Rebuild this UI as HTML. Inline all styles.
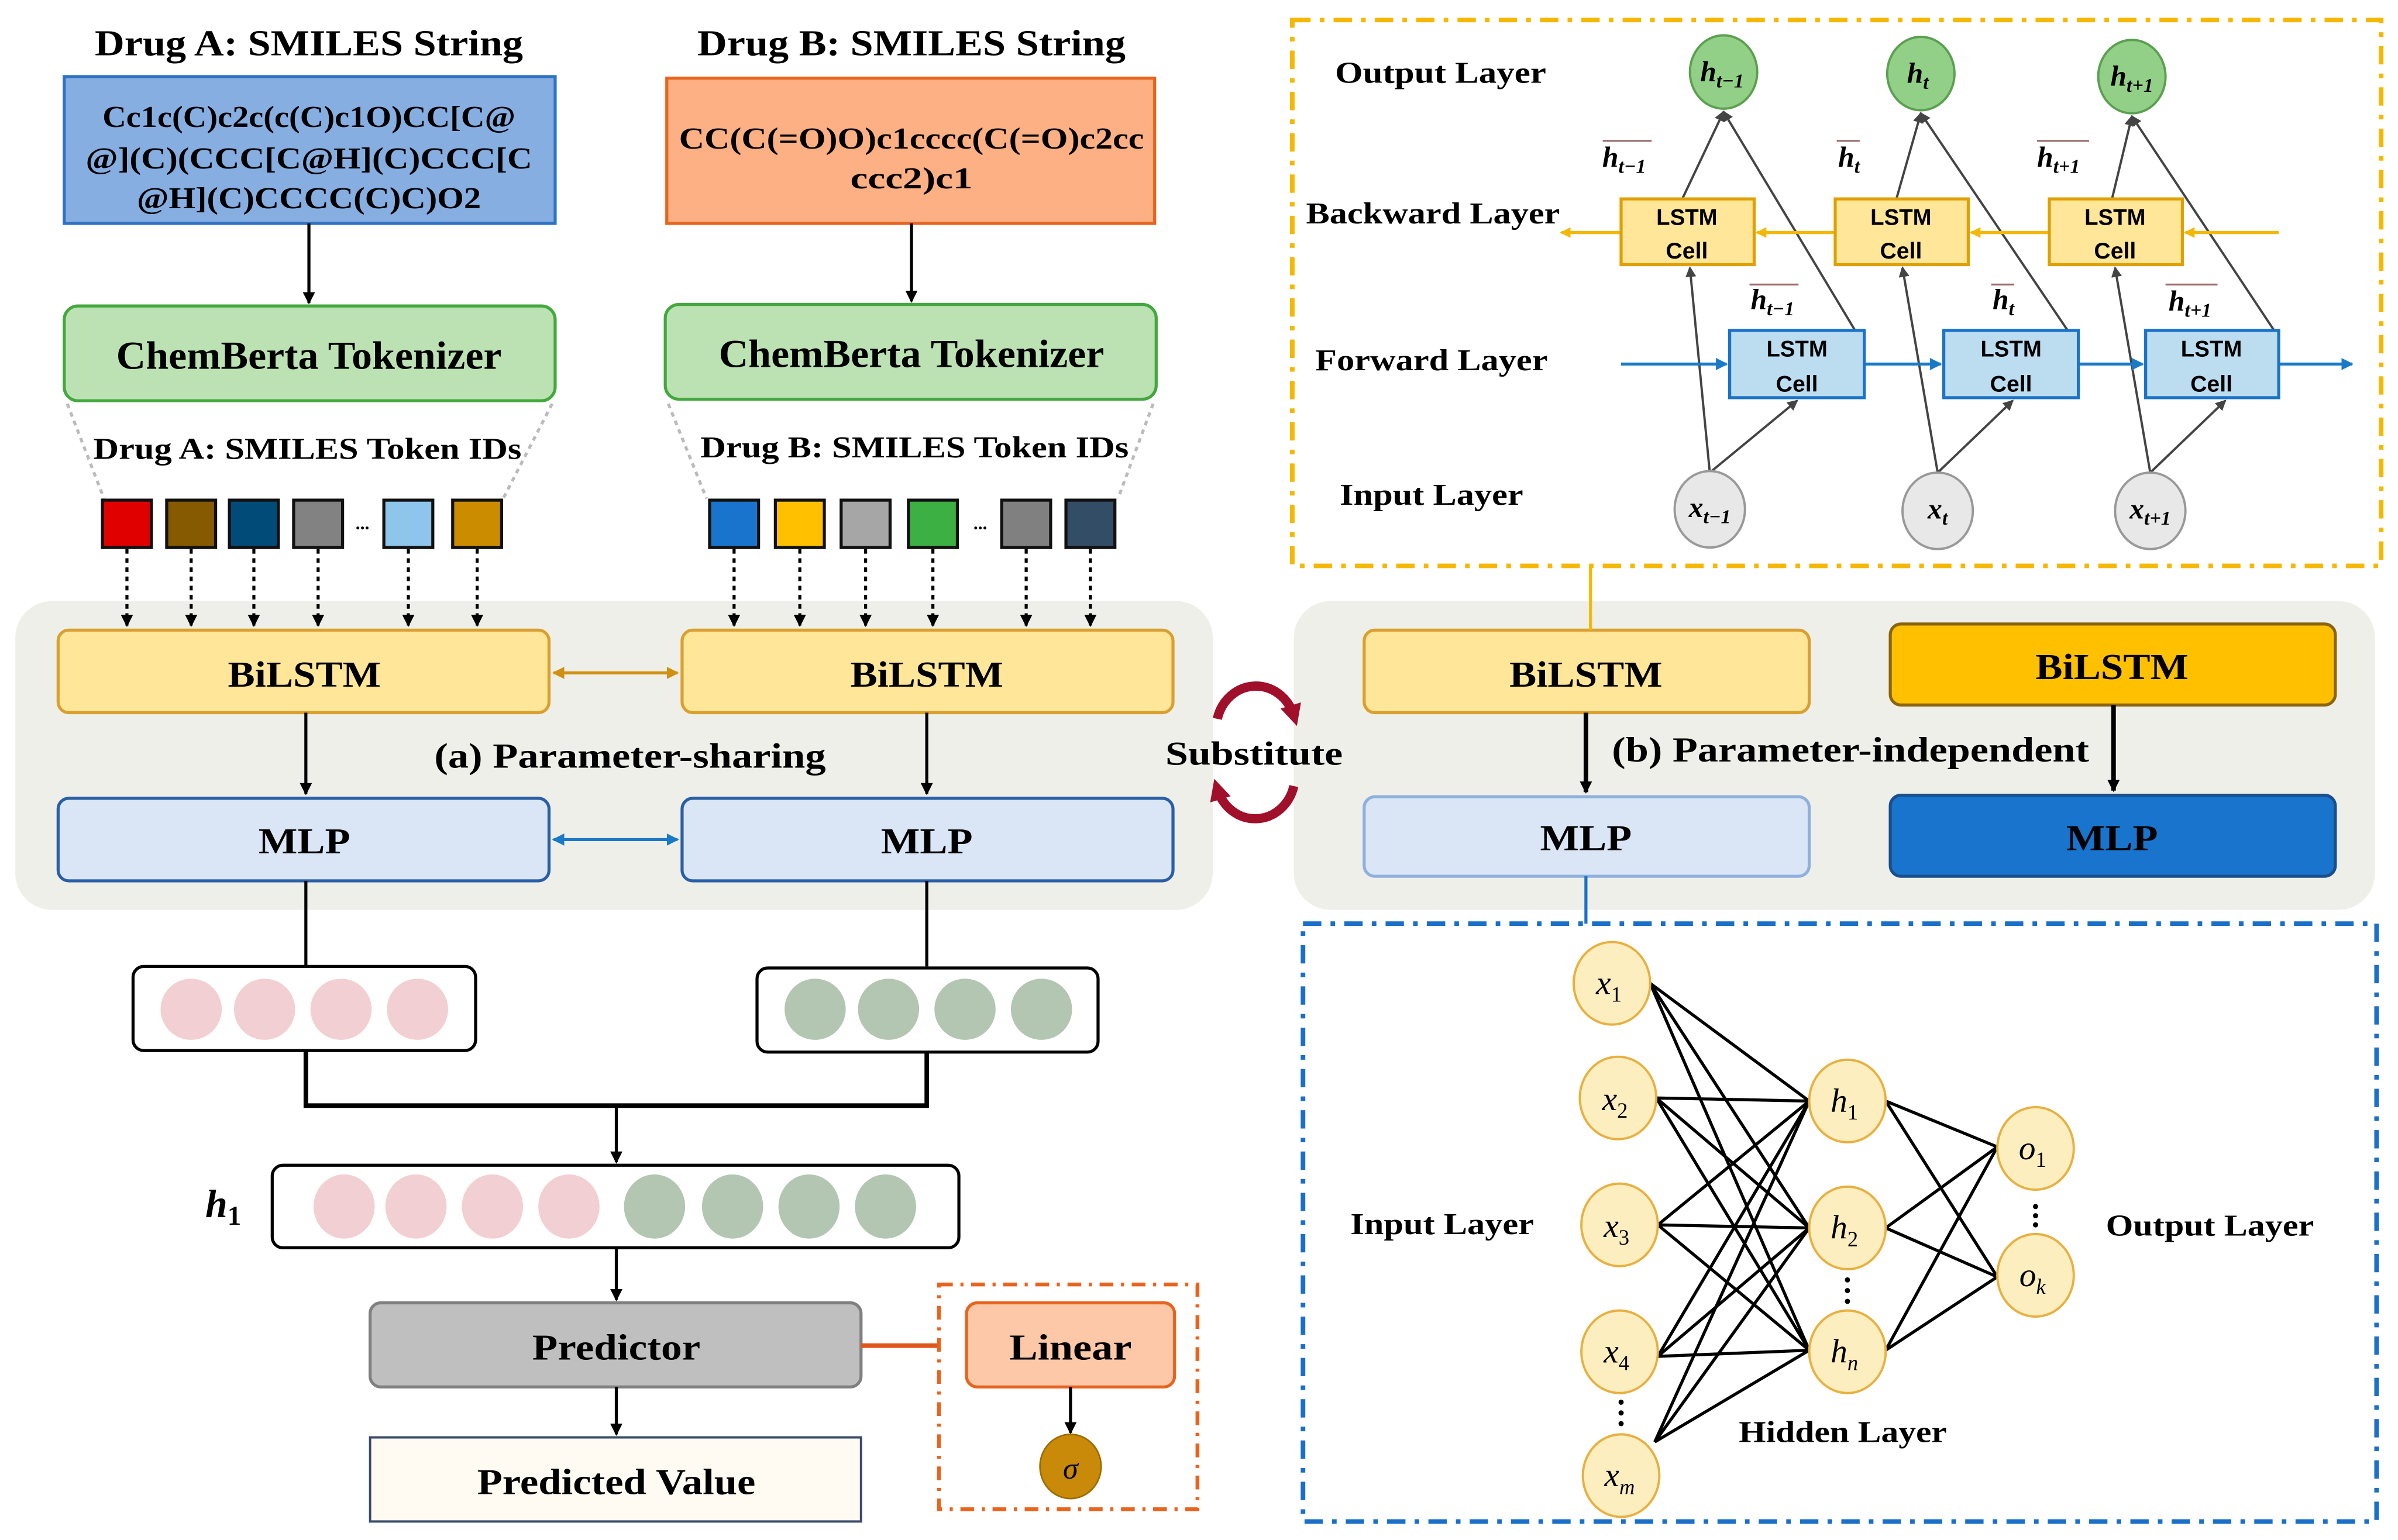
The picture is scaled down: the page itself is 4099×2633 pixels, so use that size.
<!DOCTYPE html>
<html><head><meta charset="utf-8"><style>html,body{margin:0;padding:0;background:#fff}svg{display:block}</style></head><body>
<svg width="4099" height="2633" viewBox="0 0 1568 1007" xmlns="http://www.w3.org/2000/svg" font-family="'Liberation Serif',serif" font-weight="bold">
<defs>
<marker id="ak" markerWidth="8" markerHeight="8" refX="7" refY="4" orient="auto" markerUnits="userSpaceOnUse"><path d="M0,0 L8,4 L0,8 z" fill="#000"/></marker>
<marker id="ag" markerWidth="7" markerHeight="7" refX="6" refY="3.5" orient="auto" markerUnits="userSpaceOnUse"><path d="M0,0 L7,3.5 L0,7 z" fill="#444"/></marker>
<marker id="ao" markerWidth="8" markerHeight="8" refX="7" refY="4" orient="auto-start-reverse" markerUnits="userSpaceOnUse"><path d="M0,0 L8,4 L0,8 z" fill="#d09010"/></marker>
<marker id="ab" markerWidth="8" markerHeight="8" refX="7" refY="4" orient="auto-start-reverse" markerUnits="userSpaceOnUse"><path d="M0,0 L8,4 L0,8 z" fill="#1a7ac8"/></marker>
<marker id="ay" markerWidth="7" markerHeight="7" refX="6" refY="3.5" orient="auto" markerUnits="userSpaceOnUse"><path d="M0,0 L7,3.5 L0,7 z" fill="#f5b800"/></marker>
<marker id="ar" markerWidth="14" markerHeight="14" refX="7" refY="7" orient="auto" markerUnits="userSpaceOnUse"><path d="M0,0 L14,7 L0,14 z" fill="#a0102a"/></marker>
</defs>

<!-- Left top -->
<text x="202" y="36" font-size="24" text-anchor="middle" textLength="280" lengthAdjust="spacingAndGlyphs">Drug A: SMILES String</text>
<text x="596" y="36" font-size="24" text-anchor="middle" textLength="280" lengthAdjust="spacingAndGlyphs">Drug B: SMILES String</text>
<rect x="42" y="50" width="321" height="96" fill="#86aee1" stroke="#2f72c4" stroke-width="2"/>
<g font-size="20" text-anchor="middle">
<text x="202" y="83" textLength="270" lengthAdjust="spacingAndGlyphs">Cc1c(C)c2c(c(C)c1O)CC[C@</text>
<text x="202" y="110" textLength="292" lengthAdjust="spacingAndGlyphs">@](C)(CCC[C@H](C)CCC[C</text>
<text x="202" y="136" textLength="225" lengthAdjust="spacingAndGlyphs">@H](C)CCCC(C)C)O2</text>
</g>
<rect x="436" y="51" width="319" height="95" fill="#fdb083" stroke="#e8641e" stroke-width="2"/>
<g font-size="20" text-anchor="middle">
<text x="596" y="97" textLength="304" lengthAdjust="spacingAndGlyphs">CC(C(=O)O)c1cccc(C(=O)c2cc</text>
<text x="596" y="123" textLength="80" lengthAdjust="spacingAndGlyphs">ccc2)c1</text>
</g>
<line x1="202" y1="146" x2="202" y2="198" stroke="#000" stroke-width="2" marker-end="url(#ak)"/>
<line x1="596" y1="146" x2="596" y2="197" stroke="#000" stroke-width="2" marker-end="url(#ak)"/>
<rect x="42" y="200" width="321" height="62" rx="9" fill="#bce2b4" stroke="#43a83e" stroke-width="2"/>
<rect x="435" y="199" width="321" height="62" rx="9" fill="#bce2b4" stroke="#43a83e" stroke-width="2"/>
<text x="202" y="241" font-size="26" text-anchor="middle" textLength="252" lengthAdjust="spacingAndGlyphs">ChemBerta Tokenizer</text>
<text x="596" y="240" font-size="26" text-anchor="middle" textLength="252" lengthAdjust="spacingAndGlyphs">ChemBerta Tokenizer</text>
<g stroke="#bbb" stroke-width="2" stroke-dasharray="3,3">
<line x1="44" y1="264" x2="68" y2="326"/><line x1="361" y1="264" x2="329" y2="326"/>
<line x1="437" y1="264" x2="462" y2="326"/><line x1="754" y1="264" x2="731" y2="326"/>
</g>
<text x="201" y="300" font-size="20" text-anchor="middle" textLength="280" lengthAdjust="spacingAndGlyphs">Drug A: SMILES Token IDs</text>
<text x="598" y="299" font-size="20" text-anchor="middle" textLength="280" lengthAdjust="spacingAndGlyphs">Drug B: SMILES Token IDs</text>
<g stroke="#111" stroke-width="2">
<rect x="67" y="327" width="32" height="31" fill="#e00000"/>
<rect x="109" y="327" width="32" height="31" fill="#865a00"/>
<rect x="150" y="327" width="32" height="31" fill="#004b78"/>
<rect x="192" y="327" width="32" height="31" fill="#828282"/>
<rect x="251" y="327" width="32" height="31" fill="#8ec5ea"/>
<rect x="296" y="327" width="32" height="31" fill="#cc8c00"/>
<rect x="464" y="327" width="32" height="31" fill="#1874cd"/>
<rect x="507" y="327" width="32" height="31" fill="#ffc000"/>
<rect x="550" y="327" width="32" height="31" fill="#a6a6a6"/>
<rect x="594" y="327" width="32" height="31" fill="#3cb043"/>
<rect x="655" y="327" width="32" height="31" fill="#808080"/>
<rect x="697" y="327" width="32" height="31" fill="#344d66"/>
</g>
<text x="237" y="346" font-size="12" text-anchor="middle">...</text>
<text x="641" y="346" font-size="12" text-anchor="middle">...</text>

<!-- gray panels -->
<rect x="10" y="393" width="783" height="202" rx="24" fill="#efefea"/>
<rect x="846" y="393" width="707" height="202" rx="24" fill="#efefea"/>
<g stroke="#000" stroke-width="2" stroke-dasharray="3,3">
<line x1="83" y1="359" x2="83" y2="409" marker-end="url(#ak)"/>
<line x1="125" y1="359" x2="125" y2="409" marker-end="url(#ak)"/>
<line x1="166" y1="359" x2="166" y2="409" marker-end="url(#ak)"/>
<line x1="208" y1="359" x2="208" y2="409" marker-end="url(#ak)"/>
<line x1="267" y1="359" x2="267" y2="409" marker-end="url(#ak)"/>
<line x1="312" y1="359" x2="312" y2="409" marker-end="url(#ak)"/>
<line x1="480" y1="359" x2="480" y2="409" marker-end="url(#ak)"/>
<line x1="523" y1="359" x2="523" y2="409" marker-end="url(#ak)"/>
<line x1="566" y1="359" x2="566" y2="409" marker-end="url(#ak)"/>
<line x1="610" y1="359" x2="610" y2="409" marker-end="url(#ak)"/>
<line x1="671" y1="359" x2="671" y2="409" marker-end="url(#ak)"/>
<line x1="713" y1="359" x2="713" y2="409" marker-end="url(#ak)"/>
</g>
<rect x="38" y="412" width="321" height="54" rx="7" fill="#ffe699" stroke="#d9a030" stroke-width="2"/>
<rect x="446" y="412" width="321" height="54" rx="7" fill="#ffe699" stroke="#d9a030" stroke-width="2"/>
<text x="199" y="449" font-size="24" text-anchor="middle" textLength="100" lengthAdjust="spacingAndGlyphs">BiLSTM</text>
<text x="606" y="449" font-size="24" text-anchor="middle" textLength="100" lengthAdjust="spacingAndGlyphs">BiLSTM</text>
<line x1="362" y1="440" x2="443" y2="440" stroke="#d09010" stroke-width="2" marker-start="url(#ao)" marker-end="url(#ao)"/>
<text x="412" y="502" font-size="23" text-anchor="middle" textLength="256" lengthAdjust="spacingAndGlyphs">(a) Parameter-sharing</text>
<line x1="200" y1="466" x2="200" y2="519" stroke="#000" stroke-width="2" marker-end="url(#ak)"/>
<line x1="606" y1="466" x2="606" y2="519" stroke="#000" stroke-width="2" marker-end="url(#ak)"/>
<rect x="38" y="522" width="321" height="54" rx="7" fill="#dae6f5" stroke="#2a5fa6" stroke-width="2"/>
<rect x="446" y="522" width="321" height="54" rx="7" fill="#dae6f5" stroke="#2a5fa6" stroke-width="2"/>
<text x="199" y="558" font-size="24" text-anchor="middle" textLength="60" lengthAdjust="spacingAndGlyphs">MLP</text>
<text x="606" y="558" font-size="24" text-anchor="middle" textLength="60" lengthAdjust="spacingAndGlyphs">MLP</text>
<line x1="362" y1="549" x2="443" y2="549" stroke="#1a7ac8" stroke-width="2" marker-start="url(#ab)" marker-end="url(#ab)"/>

<line x1="200" y1="576" x2="200" y2="632" stroke="#000" stroke-width="2"/>
<line x1="606" y1="576" x2="606" y2="632" stroke="#000" stroke-width="2"/>
<rect x="87" y="632" width="224" height="55" rx="7" fill="#fff" stroke="#000" stroke-width="2"/>
<rect x="495" y="633" width="223" height="55" rx="7" fill="#fff" stroke="#000" stroke-width="2"/>
<g fill="#f2cfd2"><ellipse cx="125" cy="660" rx="20" ry="20"/><ellipse cx="173" cy="660" rx="20" ry="20"/><ellipse cx="223" cy="660" rx="20" ry="20"/><ellipse cx="273" cy="660" rx="20" ry="20"/>
<ellipse cx="225" cy="789" rx="20" ry="21"/><ellipse cx="272" cy="789" rx="20" ry="21"/><ellipse cx="322" cy="789" rx="20" ry="21"/><ellipse cx="372" cy="789" rx="20" ry="21"/></g>
<g fill="#b2c6b2"><ellipse cx="533" cy="660" rx="20" ry="20"/><ellipse cx="581" cy="660" rx="20" ry="20"/><ellipse cx="631" cy="660" rx="20" ry="20"/><ellipse cx="681" cy="660" rx="20" ry="20"/></g>
<polyline points="200,687 200,723 606,723 606,688" fill="none" stroke="#000" stroke-width="3"/>
<line x1="403" y1="723" x2="403" y2="760" stroke="#000" stroke-width="2" marker-end="url(#ak)"/>
<text x="146" y="796" font-size="26" font-style="italic" text-anchor="middle">h<tspan font-size="18" dy="5" font-style="normal">1</tspan></text>
<rect x="178" y="762" width="449" height="54" rx="7" fill="#fff" stroke="#000" stroke-width="2"/>
<g fill="#f2cfd2"><ellipse cx="225" cy="789" rx="20" ry="21"/><ellipse cx="272" cy="789" rx="20" ry="21"/><ellipse cx="322" cy="789" rx="20" ry="21"/><ellipse cx="372" cy="789" rx="20" ry="21"/></g>
<g fill="#b2c6b2"><ellipse cx="428" cy="789" rx="20" ry="21"/><ellipse cx="479" cy="789" rx="20" ry="21"/><ellipse cx="529" cy="789" rx="20" ry="21"/><ellipse cx="579" cy="789" rx="20" ry="21"/></g>
<line x1="403" y1="816" x2="403" y2="850" stroke="#000" stroke-width="2" marker-end="url(#ak)"/>
<rect x="242" y="852" width="321" height="55" rx="7" fill="#bfbfbf" stroke="#808080" stroke-width="2"/>
<text x="403" y="889" font-size="24" text-anchor="middle" textLength="110" lengthAdjust="spacingAndGlyphs">Predictor</text>
<line x1="403" y1="907" x2="403" y2="938" stroke="#000" stroke-width="2" marker-end="url(#ak)"/>
<rect x="242" y="940" width="321" height="55" fill="#fffbf3" stroke="#3a4a6a" stroke-width="1.5"/>
<text x="403" y="977" font-size="24" text-anchor="middle" textLength="182" lengthAdjust="spacingAndGlyphs">Predicted Value</text>
<line x1="563" y1="880" x2="614" y2="880" stroke="#e0561a" stroke-width="3"/>
<rect x="614" y="840" width="169" height="147" fill="none" stroke="#e8641e" stroke-width="2.5" stroke-dasharray="9,5,2,5"/>
<rect x="632" y="852" width="136" height="55" rx="7" fill="#fdc8a8" stroke="#e8641e" stroke-width="2"/>
<text x="700" y="889" font-size="24" text-anchor="middle" textLength="80" lengthAdjust="spacingAndGlyphs">Linear</text>
<line x1="700" y1="907" x2="700" y2="937" stroke="#000" stroke-width="2" marker-end="url(#ak)"/>
<ellipse cx="700" cy="959" rx="20" ry="21" fill="#c88a08" stroke="#9a6a00" stroke-width="1"/>
<text x="700" y="967" font-size="20" font-style="italic" font-weight="normal" text-anchor="middle">σ</text>

<!-- Substitute -->
<path d="M796,470 A26,28 0 0 1 846,468" fill="none" stroke="#a0102a" stroke-width="6" marker-end="url(#ar)"/>
<path d="M846,514 A26,28 0 0 1 796,516" fill="none" stroke="#a0102a" stroke-width="6" marker-end="url(#ar)"/>
<path d="M796,470 A26,28 0 0 1 846,468" fill="none" stroke="#a0102a" stroke-width="6"/>
<text x="820" y="500" font-size="22" text-anchor="middle" textLength="116" lengthAdjust="spacingAndGlyphs">Substitute</text>

<!-- right panel -->
<rect x="892" y="412" width="291" height="54" rx="7" fill="#ffe699" stroke="#d9a030" stroke-width="2"/>
<rect x="1236" y="408" width="291" height="53" rx="7" fill="#ffc000" stroke="#8a6410" stroke-width="2"/>
<text x="1037" y="449" font-size="24" text-anchor="middle" textLength="100" lengthAdjust="spacingAndGlyphs">BiLSTM</text>
<text x="1381" y="444" font-size="24" text-anchor="middle" textLength="100" lengthAdjust="spacingAndGlyphs">BiLSTM</text>
<text x="1210" y="498" font-size="23" text-anchor="middle" textLength="312" lengthAdjust="spacingAndGlyphs">(b) Parameter-independent</text>
<line x1="1037" y1="466" x2="1037" y2="518" stroke="#000" stroke-width="3" marker-end="url(#ak)"/>
<line x1="1382" y1="461" x2="1382" y2="517" stroke="#000" stroke-width="3" marker-end="url(#ak)"/>
<rect x="892" y="521" width="291" height="52" rx="7" fill="#dae6f5" stroke="#8fb0dc" stroke-width="2"/>
<rect x="1236" y="520" width="291" height="53" rx="7" fill="#1874cd" stroke="#1a4f8a" stroke-width="2"/>
<text x="1037" y="556" font-size="24" text-anchor="middle" textLength="60" lengthAdjust="spacingAndGlyphs">MLP</text>
<text x="1381" y="556" font-size="24" text-anchor="middle" textLength="60" lengthAdjust="spacingAndGlyphs">MLP</text>

<!-- LSTM box -->
<rect x="845" y="13" width="712" height="357" fill="none" stroke="#f5b800" stroke-width="3" stroke-dasharray="12,6,3,6"/>
<line x1="1040" y1="370" x2="1040" y2="412" stroke="#f5b800" stroke-width="2"/>
<g font-size="20" text-anchor="middle">
<text x="942" y="54" textLength="138" lengthAdjust="spacingAndGlyphs">Output Layer</text>
<text x="937" y="146" textLength="166" lengthAdjust="spacingAndGlyphs">Backward Layer</text>
<text x="936" y="242" textLength="152" lengthAdjust="spacingAndGlyphs">Forward Layer</text>
<text x="936" y="330" textLength="120" lengthAdjust="spacingAndGlyphs">Input Layer</text>
</g>
<!-- arrows lines -->
<g stroke="#444" stroke-width="1.5" fill="none">
<line x1="1118" y1="309" x2="1105" y2="175" marker-end="url(#ag)"/>
<line x1="1118" y1="309" x2="1175" y2="262" marker-end="url(#ag)"/>
<line x1="1267" y1="309" x2="1244" y2="175" marker-end="url(#ag)"/>
<line x1="1267" y1="309" x2="1316" y2="262" marker-end="url(#ag)"/>
<line x1="1406" y1="309" x2="1383" y2="175" marker-end="url(#ag)"/>
<line x1="1406" y1="309" x2="1455" y2="262" marker-end="url(#ag)"/>
<line x1="1100" y1="130" x2="1127" y2="73" marker-end="url(#ag)"/>
<line x1="1213" y1="216" x2="1127" y2="73" marker-end="url(#ag)"/>
<line x1="1240" y1="130" x2="1256" y2="74" marker-end="url(#ag)"/>
<line x1="1352" y1="216" x2="1256" y2="74" marker-end="url(#ag)"/>
<line x1="1381" y1="130" x2="1394" y2="76" marker-end="url(#ag)"/>
<line x1="1487" y1="216" x2="1394" y2="76" marker-end="url(#ag)"/>
</g>
<g stroke="#f5b800" stroke-width="2">
<line x1="1490" y1="152" x2="1429" y2="152" marker-end="url(#ay)"/>
<line x1="1340" y1="152" x2="1289" y2="152" marker-end="url(#ay)"/>
<line x1="1200" y1="152" x2="1149" y2="152" marker-end="url(#ay)"/>
<line x1="1060" y1="152" x2="1021" y2="152" marker-end="url(#ay)"/>
</g>
<g stroke="#1a7ac8" stroke-width="2">
<line x1="1060" y1="238" x2="1129" y2="238" marker-end="url(#ab)"/>
<line x1="1219" y1="238" x2="1269" y2="238" marker-end="url(#ab)"/>
<line x1="1359" y1="238" x2="1401" y2="238" marker-end="url(#ab)"/>
<line x1="1490" y1="238" x2="1538" y2="238" marker-end="url(#ab)"/>
</g>
<g fill="#ffe699" stroke="#e0a000" stroke-width="2">
<rect x="1060" y="130" width="87" height="43"/><rect x="1200" y="130" width="87" height="43"/><rect x="1340" y="130" width="87" height="43"/>
</g>
<g fill="#bcdcf0" stroke="#1a73c8" stroke-width="2">
<rect x="1131" y="216" width="88" height="44"/><rect x="1271" y="216" width="88" height="44"/><rect x="1403" y="216" width="87" height="44"/>
</g>
<g font-family="'Liberation Sans',sans-serif" font-size="15" text-anchor="middle">
<text x="1103" y="147" textLength="40" lengthAdjust="spacingAndGlyphs">LSTM</text><text x="1103" y="169">Cell</text>
<text x="1243" y="147" textLength="40" lengthAdjust="spacingAndGlyphs">LSTM</text><text x="1243" y="169">Cell</text>
<text x="1383" y="147" textLength="40" lengthAdjust="spacingAndGlyphs">LSTM</text><text x="1383" y="169">Cell</text>
<text x="1175" y="233" textLength="40" lengthAdjust="spacingAndGlyphs">LSTM</text><text x="1175" y="256">Cell</text>
<text x="1315" y="233" textLength="40" lengthAdjust="spacingAndGlyphs">LSTM</text><text x="1315" y="256">Cell</text>
<text x="1446" y="233" textLength="40" lengthAdjust="spacingAndGlyphs">LSTM</text><text x="1446" y="256">Cell</text>
</g>
<g fill="#93d087" stroke="#5aa050" stroke-width="1.5">
<ellipse cx="1127" cy="47" rx="22" ry="24"/><ellipse cx="1256" cy="48" rx="22" ry="24"/><ellipse cx="1394" cy="50" rx="22" ry="24"/>
</g>
<g fill="#e8e8e8" stroke="#999" stroke-width="1.5">
<ellipse cx="1118" cy="333" rx="23" ry="25"/><ellipse cx="1267" cy="334" rx="23" ry="25"/><ellipse cx="1406" cy="334" rx="23" ry="25"/>
</g>
<g font-size="19" font-style="italic" text-anchor="middle">
<text x="1126" y="53">h<tspan font-size="13" dy="4">t−1</tspan></text>
<text x="1254" y="54">h<tspan font-size="13" dy="4">t</tspan></text>
<text x="1394" y="56">h<tspan font-size="13" dy="4">t+1</tspan></text>
<text x="1118" y="338">x<tspan font-size="13" dy="4">t−1</tspan></text>
<text x="1267" y="339">x<tspan font-size="13" dy="4">t</tspan></text>
<text x="1406" y="339">x<tspan font-size="13" dy="4">t+1</tspan></text>
<text x="1062" y="109">h<tspan font-size="13" dy="4">t−1</tspan></text>
<text x="1209" y="109">h<tspan font-size="13" dy="4">t</tspan></text>
<text x="1346" y="109">h<tspan font-size="13" dy="4">t+1</tspan></text>
<text x="1159" y="202">h<tspan font-size="13" dy="4">t−1</tspan></text>
<text x="1310" y="202">h<tspan font-size="13" dy="4">t</tspan></text>
<text x="1432" y="203">h<tspan font-size="13" dy="4">t+1</tspan></text>
</g>
<g stroke="#9a6a6a" stroke-width="1.2">
<line x1="1048" y1="92" x2="1080" y2="92"/><line x1="1201" y1="92" x2="1216" y2="92"/><line x1="1332" y1="92" x2="1366" y2="92"/>
<line x1="1144" y1="186" x2="1176" y2="186"/><line x1="1302" y1="186" x2="1317" y2="186"/><line x1="1416" y1="186" x2="1450" y2="186"/>
</g>

<!-- NN box -->
<rect x="852" y="604" width="702" height="391" fill="none" stroke="#1a6fc8" stroke-width="3" stroke-dasharray="12,6,3,6"/>
<line x1="1037" y1="573" x2="1037" y2="604" stroke="#1a6fc8" stroke-width="2"/>
<g font-size="20" text-anchor="middle">
<text x="943" y="807" textLength="120" lengthAdjust="spacingAndGlyphs">Input Layer</text>
<text x="1445" y="808" textLength="136" lengthAdjust="spacingAndGlyphs">Output Layer</text>
<text x="1205" y="943" textLength="136" lengthAdjust="spacingAndGlyphs">Hidden Layer</text>
</g>
<g stroke="#000" stroke-width="2">
<line x1="1079" y1="643" x2="1183" y2="720"/><line x1="1079" y1="643" x2="1183" y2="803"/><line x1="1079" y1="643" x2="1183" y2="883"/>
<line x1="1083" y1="718" x2="1183" y2="720"/><line x1="1083" y1="718" x2="1183" y2="803"/><line x1="1083" y1="718" x2="1183" y2="883"/>
<line x1="1084" y1="801" x2="1183" y2="720"/><line x1="1084" y1="801" x2="1183" y2="803"/><line x1="1084" y1="801" x2="1183" y2="883"/>
<line x1="1084" y1="887" x2="1183" y2="720"/><line x1="1084" y1="887" x2="1183" y2="803"/><line x1="1084" y1="887" x2="1183" y2="883"/>
<line x1="1082" y1="943" x2="1183" y2="720"/><line x1="1082" y1="943" x2="1183" y2="803"/><line x1="1082" y1="943" x2="1183" y2="883"/>
<line x1="1233" y1="720" x2="1306" y2="750"/><line x1="1233" y1="720" x2="1306" y2="835"/>
<line x1="1233" y1="803" x2="1306" y2="750"/><line x1="1233" y1="803" x2="1306" y2="835"/>
<line x1="1233" y1="883" x2="1306" y2="750"/><line x1="1233" y1="883" x2="1306" y2="835"/>
</g>
<g fill="#fdeec0" stroke="#e8b040" stroke-width="1.5">
<ellipse cx="1054" cy="643" rx="25" ry="27"/><ellipse cx="1058" cy="718" rx="25" ry="27"/><ellipse cx="1059" cy="801" rx="25" ry="27"/><ellipse cx="1059" cy="884" rx="25" ry="27"/><ellipse cx="1060" cy="965" rx="25" ry="27"/>
<ellipse cx="1208" cy="720" rx="25" ry="27"/><ellipse cx="1208" cy="803" rx="25" ry="27"/><ellipse cx="1208" cy="884" rx="25" ry="27"/>
<ellipse cx="1331" cy="751" rx="25" ry="27"/><ellipse cx="1331" cy="834" rx="25" ry="27"/>
</g>
<g font-size="22" font-style="italic" font-weight="normal" text-anchor="middle">
<text x="1052" y="650">x<tspan font-size="14" dy="5" font-style="normal">1</tspan></text>
<text x="1056" y="726">x<tspan font-size="14" dy="5" font-style="normal">2</tspan></text>
<text x="1057" y="809">x<tspan font-size="14" dy="5" font-style="normal">3</tspan></text>
<text x="1057" y="891">x<tspan font-size="14" dy="5" font-style="normal">4</tspan></text>
<text x="1059" y="972">x<tspan font-size="14" dy="5">m</tspan></text>
<text x="1206" y="727">h<tspan font-size="14" dy="5" font-style="normal">1</tspan></text>
<text x="1206" y="810">h<tspan font-size="14" dy="5" font-style="normal">2</tspan></text>
<text x="1206" y="891">h<tspan font-size="14" dy="5">n</tspan></text>
<text x="1329" y="758">o<tspan font-size="14" dy="5" font-style="normal">1</tspan></text>
<text x="1329" y="841">o<tspan font-size="14" dy="5">k</tspan></text>
</g>
<g fill="#000">
<circle cx="1060" cy="917" r="1.7"/><circle cx="1060" cy="924" r="1.7"/><circle cx="1060" cy="931" r="1.7"/>
<circle cx="1208" cy="837" r="1.7"/><circle cx="1208" cy="844" r="1.7"/><circle cx="1208" cy="851" r="1.7"/>
<circle cx="1331" cy="789" r="1.7"/><circle cx="1331" cy="795" r="1.7"/><circle cx="1331" cy="801" r="1.7"/>
</g>
</svg>
</body></html>
